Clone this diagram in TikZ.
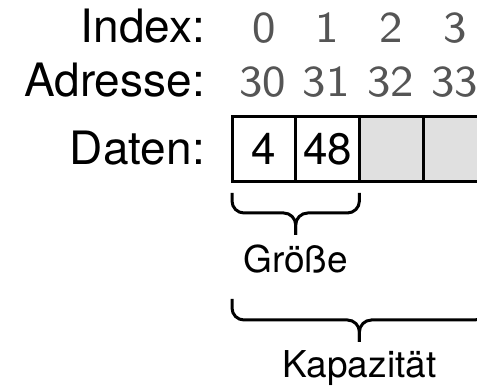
\documentclass[tikz,border=0pt]{standalone}
\usepackage{fontspec}
\setmainfont{TeX Gyre Heros}
\newfontfamily\lmseight{lmsans8-regular.otf}
\usetikzlibrary{calc}
\definecolor{numgray}{RGB}{85,85,85}
\definecolor{cellgray}{RGB}{224,224,224}
\begin{document}
\begin{tikzpicture}[x=1pt,y=-1pt,
  lbl/.style={anchor=base east,inner sep=0pt,font=\fontsize{46}{50}\selectfont},
  num/.style={anchor=base,inner sep=0pt,text=numgray,font=\lmseight\fontsize{44}{48}\selectfont},
  cell/.style={draw,line width=3pt,minimum width=63.7pt,minimum height=65pt,inner sep=0pt,text height=31pt,text depth=0pt,font=\fontsize{44}{48}\selectfont},
  emptycell/.style={cell,fill=cellgray},
  brc/.style={line width=3pt,rounded corners=12pt},
  bracelabel/.style={anchor=base,inner sep=0pt,font=\fontsize{37}{40}\selectfont}]
\useasboundingbox (0,0) rectangle (477,387);
\clip (0,0) rectangle (477,387);
% row labels
\node[lbl] (lidx) at (205,43) {Index:};
\node[lbl] (ladr) at (205,97) {Adresse:};
\node[lbl] (ldat) at (205,165) {Daten:};
% cells
\node[emptycell] (c3) at (391.25,149.5) {};
\node[emptycell] (c4) at (454.95,149.5) {};
\node[cell] (c1) at (263.85,149.5) {4};
\node[cell] (c2) at (327.55,149.5) {48};
% indices
\node[num] (i0) at (263.85,43) {0};
\node[num] (i1) at (327.55,43) {1};
\node[num] (i2) at (391.25,43) {2};
\node[num] (i3) at (454.95,43) {3};
% addresses
\node[num] (a0) at (262.5,97) {30};
\node[num] (a1) at (326,97) {31};
\node[num] (a2) at (390.5,97) {32};
\node[num] (a3) at (454.5,97) {33};
% brace for size
\coordinate (b1l) at (232,193);
\coordinate (b1r) at (359.4,193);
\coordinate (b1m) at (295.7,213);
\coordinate (b1t) at (295.7,235);
\draw[brc] (b1l) -- (b1l |- b1m) -- (b1m) -- (b1t);
\draw[brc] (b1r) -- (b1r |- b1m) -- (b1m) -- (b1t);
\node[bracelabel] (size) at (295.7,273) {Größe};
% brace for capacity
\coordinate (b2l) at (232,299);
\coordinate (b2r) at (486.8,299);
\coordinate (b2m) at (359.4,320);
\coordinate (b2t) at (359.4,342);
\draw[brc] (b2l) -- (b2l |- b2m) -- (b2m) -- (b2t);
\draw[brc] (b2r) -- (b2r |- b2m) -- (b2m) -- (b2t);
\node[bracelabel] (capac) at (359.4,378) {Kapazität};
\end{tikzpicture}
\end{document}
